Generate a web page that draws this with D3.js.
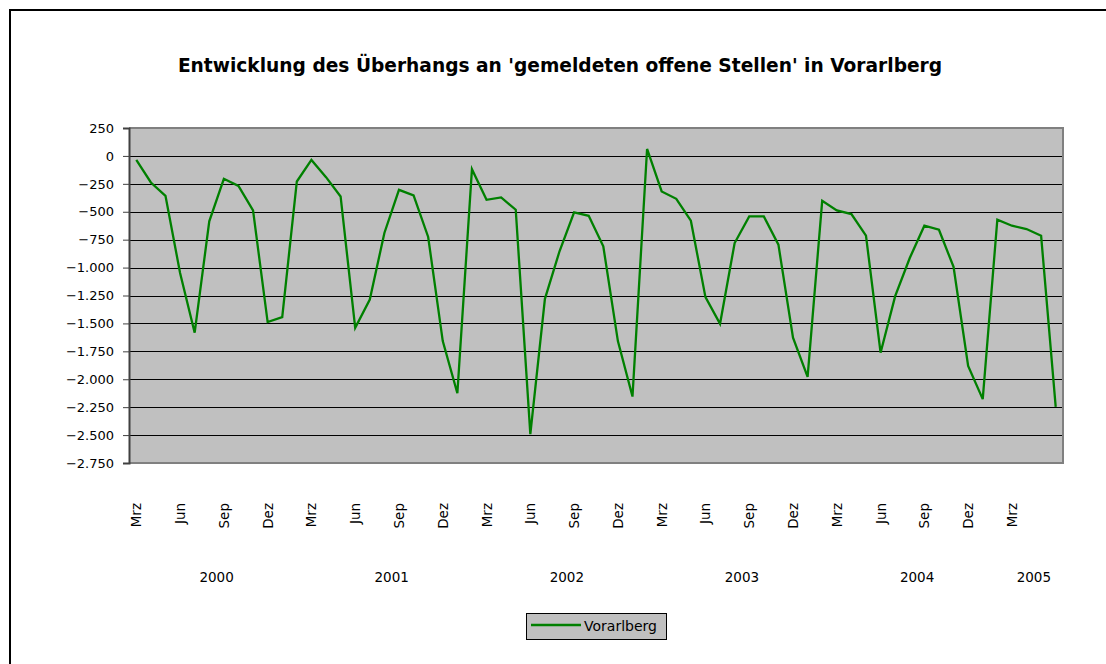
<!DOCTYPE html>
<html><head><meta charset="utf-8">
<script src="https://cdn.jsdelivr.net/npm/d3@7"></script>
<style>body{margin:0;background:#fff}svg{display:block}</style>
</head><body><svg id="c" width="1106" height="664"></svg>
<script>
const title = "Entwicklung des Überhangs an 'gemeldeten offene Stellen' in Vorarlberg";
const seriesName = "Vorarlberg";
const monthNames = ["Mrz","Apr","Mai","Jun","Jul","Aug","Sep","Okt","Nov","Dez","Jan","Feb"];
const yearLabels = ["2000","2001","2002","2003","2004","2005"];
const values = [
  -36,-238,-357,-1048,-1583,-586,-205,-268,-488,-1488,-1443,-229,
  -36,-190,-363,-1539,-1286,-690,-304,-354,-726,-1658,-2125,-119,
  -393,-372,-482,-2491,-1280,-854,-506,-536,-810,-1658,-2155,62,
  -318,-384,-580,-1265,-1503,-780,-542,-542,-795,-1628,-1979,-402,
  -488,-521,-714,-1762,-1256,-914,-625,-661,-994,-1881,-2178,-571,
  -625,-655,-714,-2248
];
const yTicks = [250,0,-250,-500,-750,-1000,-1250,-1500,-1750,-2000,-2250,-2500,-2750];

const cats = values.map((v,i)=>i);
const font = "DejaVu Sans, sans-serif";
const svg = d3.select("#c");
const L=129,R=1063,T=128,B=463;

svg.append("path").attr("d","M10,664 V10 H1106").attr("fill","none").attr("stroke","#000").attr("stroke-width",2);

const x = d3.scaleBand().domain(cats).range([L,R]).padding(0);
const y = d3.scaleLinear().domain([-2750,250]).range([B,T]);

svg.append("rect").attr("x",L).attr("y",T).attr("width",R-L).attr("height",B-T).attr("fill","#c0c0c0");

svg.append("g").selectAll("line").data(yTicks.filter(t=>t!==250 && t!==-2750)).join("line")
  .attr("x1",L).attr("x2",R).attr("y1",d=>Math.round(y(d))+0.5).attr("y2",d=>Math.round(y(d))+0.5)
  .attr("stroke","#000").attr("stroke-width",1);

svg.append("path").attr("d",`M${L},${T} H${R} V${B} H${L}`).attr("fill","none").attr("stroke","#808080").attr("stroke-width",2);

const loc = d3.formatLocale({decimal:",",thousands:".",grouping:[3],currency:["","€"],minus:"\u2212"});
const fmt = loc.format(",d");
const yAxis = d3.axisLeft(y).tickValues(yTicks).tickFormat(fmt).tickSize(6).tickPadding(9);
const gy = svg.append("g").attr("transform",`translate(${L},0)`).call(yAxis);
gy.select(".domain").attr("stroke","#404040").attr("stroke-width",2);
gy.selectAll(".tick line").attr("stroke","#404040");
gy.selectAll("text").attr("font-family",font).attr("font-size",13).attr("fill","#000");

const gx = svg.append("g");
cats.filter(i=>i%3===0 && i<=60).forEach(i=>{
  const cx = x(i)+x.bandwidth()/2;
  gx.append("text").attr("transform",`translate(${cx+5},503) rotate(-90)`)
    .attr("text-anchor","end").attr("font-family",font).attr("font-size",13.5).text(monthNames[i%12]);
});
yearLabels.forEach((yl,k)=>{
  const s = k*12, e = Math.min(values.length, s+12)-1;
  const cx = (x(s) + x(e)+x.bandwidth())/2;
  gx.append("text").attr("x",cx).attr("y",582).attr("text-anchor","middle")
    .attr("font-family",font).attr("font-size",13.5).text(yl);
});

const line = d3.line().x((d,i)=>x(i)+x.bandwidth()/2).y(d=>y(d));
svg.append("path").datum(values).attr("d",line).attr("fill","none").attr("stroke","#008000").attr("stroke-width",2.3).attr("stroke-linejoin","miter");

const t = svg.append("text").attr("x",560).attr("y",72).attr("text-anchor","middle")
  .attr("font-family",font).attr("font-weight","bold").attr("font-size",18).text(title);
const w = t.node().getComputedTextLength();
t.attr("font-size", 18*765/w);

const lg = svg.append("g");
lg.append("rect").attr("x",526.5).attr("y",613.5).attr("width",140).attr("height",26).attr("fill","#c0c0c0").attr("stroke","#000").attr("stroke-width",1);
lg.append("line").attr("x1",531).attr("x2",581).attr("y1",625).attr("y2",625).attr("stroke","#008000").attr("stroke-width",2.3);
const lt = lg.append("text").attr("x",584).attr("y",630.5).attr("font-family",font).attr("font-size",14).text(seriesName);
lt.attr("font-size", 14*73/lt.node().getComputedTextLength());
</script></body></html>
